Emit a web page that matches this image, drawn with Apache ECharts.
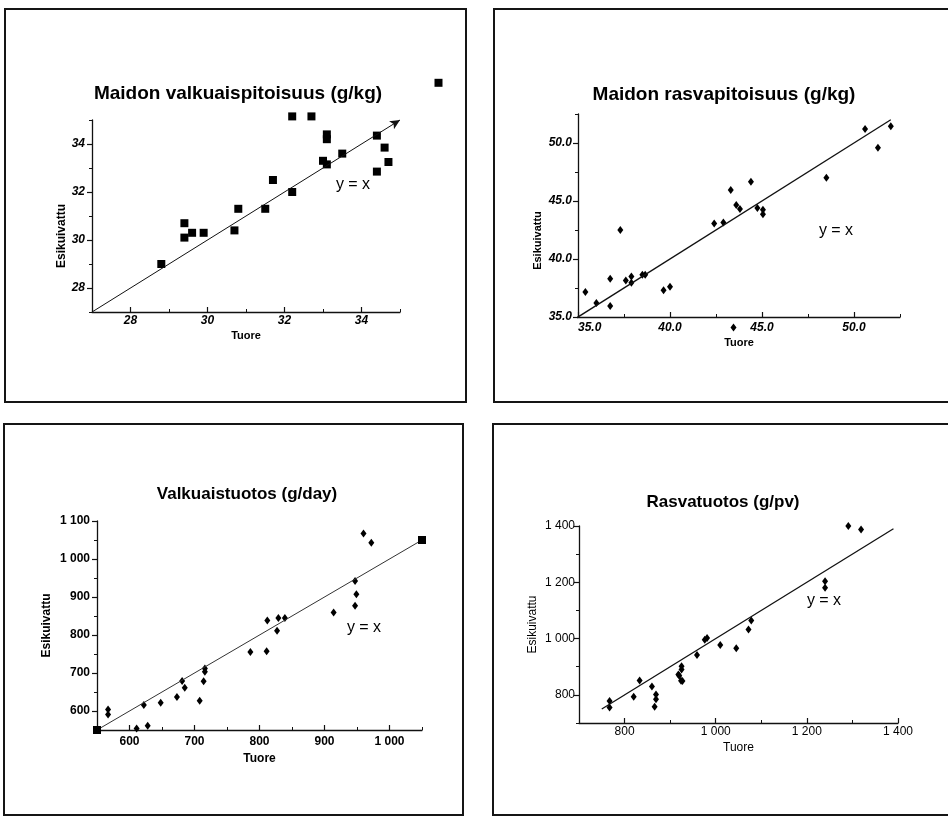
<!DOCTYPE html>
<html>
<head>
<meta charset="utf-8">
<script src="https://cdn.jsdelivr.net/npm/echarts@6/dist/echarts.min.js"></script>
<style>
  html, body { margin: 0; padding: 0; background: #fff; }
  #chart { width: 948px; height: 817px; }
</style>
</head>
<body>
<div id="chart"></div>
<script>
// Maidon valkuaispitoisuus (g/kg)
const valkPitTuore = [28.8, 29.4, 29.4, 29.6, 29.9, 30.7, 30.8, 31.5, 31.7, 32.2, 32.2, 32.7, 33.0, 33.1, 33.1, 33.1, 33.5, 34.4, 34.4, 34.6, 34.7, 36.0];
const valkPitEsik = [29.0, 30.7, 30.1, 30.3, 30.3, 30.4, 31.3, 31.3, 32.5, 35.15, 32.0, 35.15, 33.3, 34.4, 34.2, 33.15, 33.6, 34.35, 32.85, 33.85, 33.25, 36.55];
const valkPitTicks = [28, 30, 32, 34];

// Maidon rasvapitoisuus (g/kg)
const rasvPitTuore = [35.4, 36.0, 36.75, 36.75, 37.3, 37.6, 37.9, 37.9, 38.5, 38.65, 39.65, 40.0, 42.4, 42.9, 43.3, 43.45, 43.6, 43.8, 44.4, 44.75, 45.05, 45.05, 48.5, 50.6, 51.3, 52.0];
const rasvPitEsik = [37.15, 36.2, 38.3, 35.95, 42.5, 38.15, 38.5, 37.95, 38.65, 38.65, 37.3, 37.6, 43.05, 43.15, 45.95, 34.1, 44.65, 44.3, 46.65, 44.4, 44.25, 43.85, 47.0, 51.2, 49.6, 51.45];
const rasvPitTicks = [35, 40, 45, 50];

// Valkuaistuotos (g/day)
const valkTuotTuore = [567, 567, 611, 622, 628, 648, 673, 681, 685, 708, 714, 716, 716, 786, 811, 812, 827, 829, 839, 914, 947, 947, 949, 960, 972];
const valkTuotEsik = [604, 591, 554, 616, 561, 622, 637, 679, 661, 627, 678, 712, 703, 755, 757, 838, 811, 845, 845, 859, 942, 877, 907, 1067, 1043];
const valkTuotXTicks = [600, 700, 800, 900, 1000];
const valkTuotYTicks = [600, 700, 800, 900, 1000, 1100];

// Rasvatuotos (g/pv)
const rasvTuotTuore = [767, 767, 820, 833, 860, 866, 869, 869, 918, 920, 924, 927, 925, 925, 959, 976, 981, 1010, 1045, 1072, 1078, 1240, 1240, 1291, 1319];
const rasvTuotEsik = [778, 755, 793, 851, 830, 758, 801, 784, 872, 868, 850, 849, 902, 890, 942, 996, 1002, 977, 966, 1032, 1064, 1204, 1181, 1400, 1388];
const rasvTuotTicks = [800, 1000, 1200, 1400];

// y = x -viivojen päät
const viiva1 = [27, 35];
const viiva2 = [34.4, 52];
const viiva3 = [550, 1050];
const viiva4 = [750, 1390];

const otsikot = ['Maidon valkuaispitoisuus (g/kg)', 'Maidon rasvapitoisuus (g/kg)', 'Valkuaistuotos (g/day)', 'Rasvatuotos (g/pv)'];

const FONT = '"Liberation Sans", Arial, sans-serif';
const INK = '#111';

function tuhannet(v) {
  return String(v).replace(/\B(?=(\d{3})+(?!\d))/g, ' ');
}
function parit(xs, ys) {
  return xs.map((x, i) => [x, ys[i]]);
}

// pääakseli (tikit + tekstit) ja apuakseli pienille tikeille
function akselit(dim, grid, c) {
  const pos = dim === 'x' ? 'bottom' : 'left';
  const main = {
    type: 'value', gridIndex: grid, position: pos, min: c.min, max: c.max,
    axisLine: { show: true, onZero: false, lineStyle: { color: INK, width: 1.3 } },
    axisTick: { show: true, inside: dim === 'x', length: 5, customValues: c.ticks, lineStyle: { color: INK, width: 1.2 } },
    axisLabel: {
      customValues: c.ticks, formatter: c.fmt, margin: c.margin, color: '#000',
      fontFamily: FONT, fontSize: 12, fontWeight: c.bold ? 'bold' : 'normal', fontStyle: c.italic ? 'italic' : 'normal',
      alignMinLabel: c.alignMin
    },
    splitLine: { show: false },
    name: c.name, nameLocation: 'middle', nameGap: c.gap,
    nameTextStyle: { color: '#000', fontFamily: FONT, fontSize: c.nameSize, fontWeight: c.bold ? 'bold' : 'normal', padding: c.namePad || 0 }
  };
  const minor = {
    type: 'value', gridIndex: grid, position: pos, min: c.min, max: c.max, interval: c.minor,
    axisLine: { show: false, onZero: false },
    axisTick: { show: true, inside: dim === 'x', length: 3, lineStyle: { color: INK, width: 1 } },
    axisLabel: { show: false },
    splitLine: { show: false }
  };
  return [main, minor];
}

const grids = [
  { left: 92, top: 120, width: 308, height: 192 },
  { left: 578, top: 114, width: 322, height: 203 },
  { left: 97, top: 521, width: 325, height: 209 },
  { left: 579, top: 526, width: 319, height: 197 }
];

const xAxes = [].concat(
  akselit('x', 0, { min: 27, max: 35, ticks: valkPitTicks, minor: 1, margin: 3, bold: true, italic: true, name: 'Tuore', gap: 18, nameSize: 11 }),
  akselit('x', 1, { min: 35, max: 52.5, ticks: rasvPitTicks, minor: 2.5, fmt: v => v.toFixed(1), margin: 5, bold: true, italic: true, alignMin: 'left', name: 'Tuore', gap: 20, nameSize: 11 }),
  akselit('x', 2, { min: 550, max: 1050, ticks: valkTuotXTicks, minor: 50, fmt: tuhannet, margin: 6, bold: true, name: 'Tuore', gap: 23, nameSize: 12 }),
  akselit('x', 3, { min: 700, max: 1400, ticks: rasvTuotTicks, minor: 100, fmt: tuhannet, margin: 3, bold: false, name: 'Tuore', gap: 19, nameSize: 12 })
);
const yAxes = [].concat(
  akselit('y', 0, { min: 27, max: 35, ticks: valkPitTicks, minor: 1, margin: 7, bold: true, italic: true, name: 'Esikuivattu', gap: 23, nameSize: 12, namePad: [0, 40, 0, 0] }),
  akselit('y', 1, { min: 35, max: 52.5, ticks: rasvPitTicks, minor: 2.5, fmt: v => v.toFixed(1), margin: 6, bold: true, italic: true, name: 'Esikuivattu', gap: 35, nameSize: 11, namePad: [0, 50, 0, 0] }),
  akselit('y', 2, { min: 550, max: 1100, ticks: valkTuotYTicks, minor: 50, fmt: tuhannet, margin: 7, bold: true, name: 'Esikuivattu', gap: 44, nameSize: 12 }),
  akselit('y', 3, { min: 700, max: 1400, ticks: rasvTuotTicks, minor: 100, fmt: tuhannet, margin: 4, bold: false, name: 'Esikuivattu', gap: 40, nameSize: 12 })
);

const titlePos = [[238, 84], [724, 85], [247, 486], [723, 494]];
const titleSize = [19, 19, 17, 17];
const titles = otsikot.map((t, i) => ({
  text: t, left: titlePos[i][0], top: titlePos[i][1], textAlign: 'center', padding: 0,
  textStyle: { fontFamily: FONT, fontSize: titleSize[i], fontWeight: 'bold', color: '#000' }
}));

function pisteet(i, xs, ys, symbol, size) {
  return {
    type: 'scatter', xAxisIndex: 2 * i, yAxisIndex: 2 * i, clip: false, silent: true,
    symbol: symbol, symbolSize: size, itemStyle: { color: '#000', opacity: 1 },
    data: parit(xs, ys)
  };
}
function viiva(i, ends, opts) {
  return Object.assign({
    type: 'line', xAxisIndex: 2 * i, yAxisIndex: 2 * i, clip: false, silent: true,
    symbol: 'none', lineStyle: { color: INK, width: 1.3 },
    data: [[ends[0], ends[0]], [ends[1], ends[1]]]
  }, opts || {});
}

const series = [
  Object.assign(pisteet(0, valkPitTuore, valkPitEsik, 'rect', 8), {
    markLine: {
      silent: true, symbol: ['none', 'arrow'], symbolSize: [7, 10], label: { show: false },
      lineStyle: { color: INK, width: 1, type: 'solid' },
      data: [[{ coord: [viiva1[0], viiva1[0]] }, { coord: [viiva1[1], viiva1[1]] }]]
    }
  }),
  viiva(1, viiva2),
  pisteet(1, rasvPitTuore, rasvPitEsik, 'diamond', [6, 8]),
  viiva(2, viiva3, { symbol: 'rect', symbolSize: 8, showSymbol: true, itemStyle: { color: '#000' }, lineStyle: { color: '#333', width: 1 } }),
  pisteet(2, valkTuotTuore, valkTuotEsik, 'diamond', [6, 8]),
  viiva(3, viiva4),
  pisteet(3, rasvTuotTuore, rasvTuotEsik, 'diamond', [6, 8])
];

// paneelien kehykset ja y = x -merkinnät
const kehykset = [
  [5, 9, 461, 393], [494, 9, 470, 393], [4, 424, 459, 391], [493, 424, 470, 391]
].map(r => ({
  type: 'rect', silent: true, z: 100,
  shape: { x: r[0], y: r[1], width: r[2], height: r[3] },
  style: { fill: null, stroke: '#151515', lineWidth: 2 }
}));
const yxPos = [[353, 185], [836, 231], [364, 628], [824, 601]];
const yxTekstit = yxPos.map(p => ({
  type: 'text', silent: true, x: p[0], y: p[1],
  style: { text: 'y = x', font: '16px ' + FONT, fill: '#000', align: 'center', verticalAlign: 'middle' }
}));

const chart = echarts.init(document.getElementById('chart'));
chart.setOption({
  backgroundColor: '#fff',
  animation: false,
  title: titles,
  grid: grids,
  xAxis: xAxes,
  yAxis: yAxes,
  series: series,
  graphic: kehykset.concat(yxTekstit)
});
</script>
</body>
</html>
